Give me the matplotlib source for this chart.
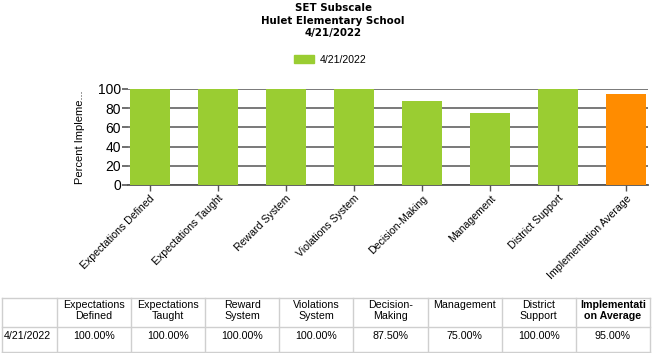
import matplotlib
matplotlib.use("Agg")
import matplotlib.pyplot as plt
from matplotlib.lines import Line2D

categories = ["Expectations Defined", "Expectations Taught", "Reward System",
              "Violations System", "Decision-Making", "Management",
              "District Support", "Implementation Average"]
values = [100.0, 100.0, 100.0, 100.0, 87.5, 75.0, 100.0, 95.0]
series_name = "4/21/2022"
table_headers = ["Expectations\nDefined", "Expectations\nTaught", "Reward\nSystem",
                 "Violations\nSystem", "Decision-\nMaking", "Management",
                 "District\nSupport", "Implementati\non Average"]
title_lines = ["SET Subscale", "Hulet Elementary School", "4/21/2022"]
yticks = [0, 20, 40, 60, 80, 100]
ylabel = "Percent Impleme..."

GREEN = "#9ACD32"
ORANGE = "#FF8C00"
W, H = 655, 353
plt.rcParams['font.family'] = ['Liberation Sans', 'DejaVu Sans']

fig = plt.figure(figsize=(W / 100, H / 100), dpi=100)

def fx(px):
    return px / W

def fy(py):
    return 1 - py / H

# axes: x 128..648, y 89..185 (pixels)
ax = fig.add_axes([fx(128), fy(185), fx(648) - fx(128), fy(89) - fy(185)])
colors = [GREEN] * (len(values) - 1) + [ORANGE]
x = list(range(len(categories)))
bars = ax.bar(x, values, width=40 / 68, color=colors, zorder=3, label=series_name)
ax.set_xlim(-0.32, len(categories) - 1 + 0.32)
ax.set_ylim(0, 100)
ax.set_yticks(yticks)
ax.yaxis.grid(True, color="#6e6e6e", linewidth=1.3, zorder=0)
for s in ["top", "right", "left"]:
    ax.spines[s].set_visible(False)
ax.spines["bottom"].set_color("#555555")
ax.spines["bottom"].set_linewidth(1.3)
ax.tick_params(axis="y", length=4, width=1.2, color="#555555", pad=1, labelsize=10)
ax.tick_params(axis="x", length=4, width=1, color="#555555", pad=2)
ax.set_xticks(x)
ax.set_xticklabels(categories, rotation=45, ha="right", va="top",
                   rotation_mode="anchor", fontsize=7.6)
ax.set_ylabel(ylabel, fontsize=8, labelpad=9)

# title
for i, t in enumerate(title_lines):
    fig.text(fx(333), fy(8 + 12.5 * i), t, ha="center", va="center",
             fontsize=7.4, fontweight="bold", family=["DejaVu Sans"])

# legend
fig.legend(handles=[bars[0]], labels=[series_name], loc="center",
           bbox_to_anchor=(fx(330), fy(60)), frameon=False, fontsize=7.6,
           handlelength=1.9, handleheight=0.8, handletextpad=0.5)
leg = fig.legends[0]
leg.legend_handles[0].set_color(GREEN)

# table
col_edges = [2, 57] + [57 + 74.1 * (k + 1) for k in range(len(categories))]
row_edges = [298, 327, 352]
lc = "#cfcfcf"
for xe in col_edges:
    fig.add_artist(Line2D([fx(xe), fx(xe)], [fy(row_edges[0]), fy(row_edges[-1])],
                          color=lc, linewidth=1))
for ye in row_edges:
    fig.add_artist(Line2D([fx(col_edges[0]), fx(col_edges[-1])], [fy(ye), fy(ye)],
                          color=lc, linewidth=1))
for k, (hdr, v) in enumerate(zip(table_headers, values)):
    cx = (col_edges[k + 1] + col_edges[k + 2]) / 2
    bold = (k == len(values) - 1)
    fig.text(fx(cx), fy(300), hdr, ha="center", va="top", fontsize=7.7,
             linespacing=1.12, fontweight="bold" if bold else "normal")
    fig.text(fx(cx), fy(336), f"{v:.2f}%", ha="center", va="center", fontsize=7.7)
fig.text(fx(4), fy(336), series_name, ha="left", va="center", fontsize=7.7)

fig.savefig("out.png", dpi=100)
